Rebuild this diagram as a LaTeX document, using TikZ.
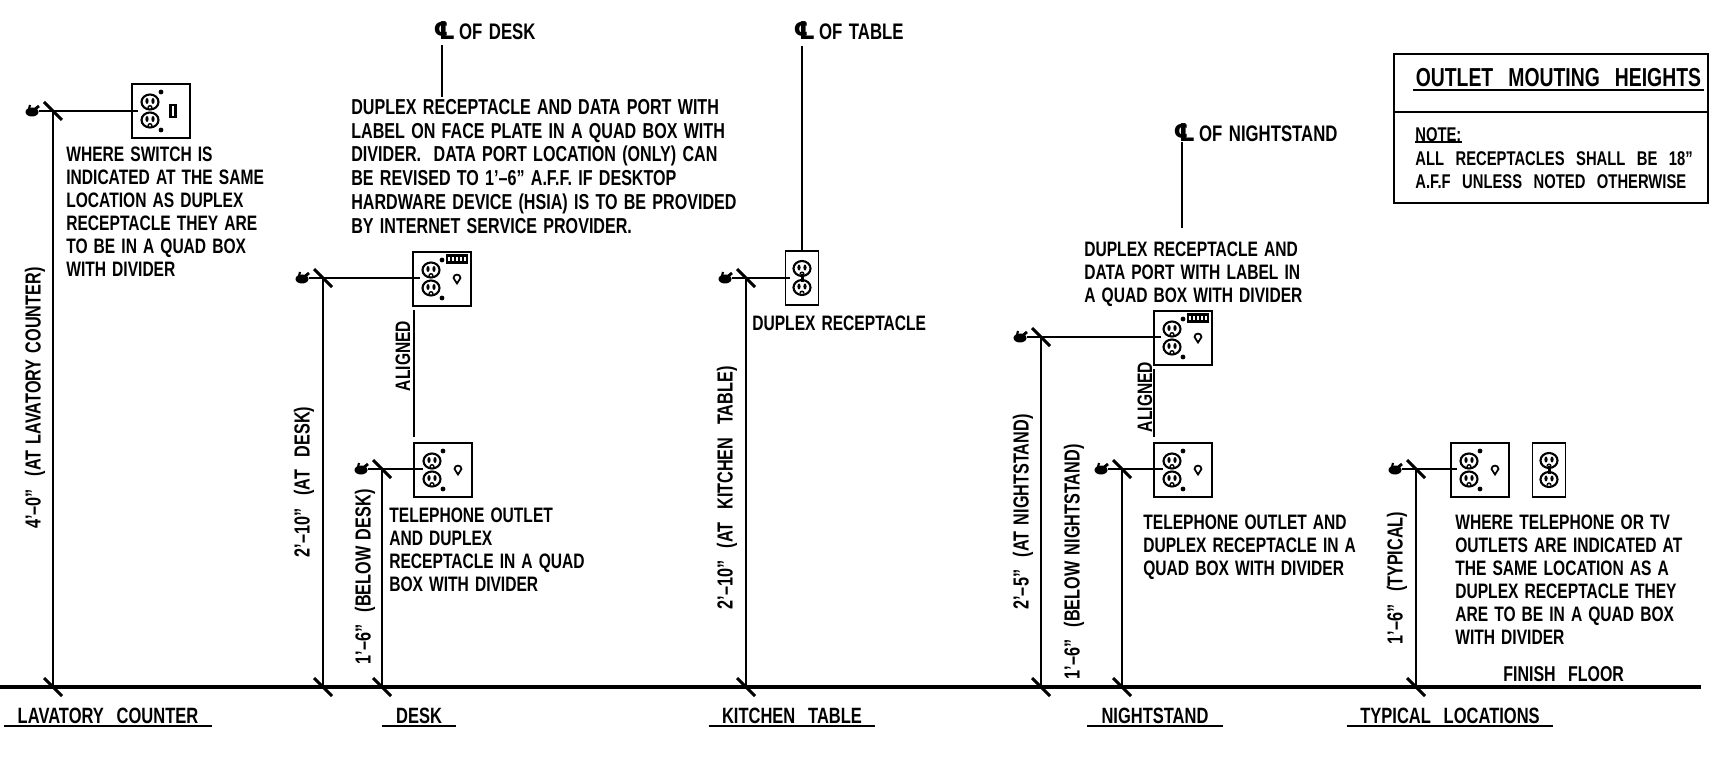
\documentclass[tikz,border=0pt]{standalone}
\usepackage{fontspec}
\setmainfont{Liberation Sans}[FakeStretch=0.745,WordSpace=1.4]
\newfontfamily\clfont{DejaVu Sans}
\newcommand{\clmark}{{\clfont\bfseries\fontsize{14}{14}\selectfont ℄}}
\tikzset{
  plate/.style={draw,line width=1.1pt,minimum width=1.16cm,minimum height=1.08cm,inner sep=0},
  narrowplate/.style={plate,minimum width=.66cm},
  note/.style={inner sep=0,anchor=north west,align=left,font=\bfseries\fontsize{11.9}{13}\selectfont},
  deskn/.style={note,font=\bfseries\fontsize{12.3}{13.5}\selectfont},
  small/.style={note,font=\bfseries\fontsize{11.3}{13}\selectfont},
  dimtext/.style={inner sep=0,rotate=90,font=\bfseries\fontsize{12.4}{13}\selectfont},
  aligntext/.style={inner sep=0,rotate=90,font=\bfseries\fontsize{11.9}{13}\selectfont},
  cltext/.style={inner sep=0,anchor=west,font=\bfseries\fontsize{12.8}{14}\selectfont},
  viewname/.style={inner xsep=0,inner ysep=1pt,font=\bfseries\fontsize{12.6}{13}\selectfont},
  floorline/.style={line width=1.8pt},
  dimline/.style={line width=1.1pt},
  leader/.style={line width=.8pt},
  tickmark/.style={line width=1.7pt},
  face/.pic={
    \draw[line width=1.2pt] (0,0) ellipse (8.5 and 7.5);
    \fill (-3,-1) ellipse (1.6 and 3);
    \fill (3,-1) ellipse (1.6 and 3);
    \draw[line width=.8pt] (-2,6) .. controls (-2,3) and (2,3) .. (2,6);
  },
  twoface/.pic={
    \pic at (-11,-9) {face};
    \pic at (-11,9) {face};
    \fill (0,-19) circle (2.4);
    \fill (0,19) circle (2.4);
  },
  jack/.pic={
    \draw[line width=1pt] (-3.5,-1) .. controls (-3.5,-5.5) and (3.5,-5.5) .. (3.5,-1) -- (0,4.5) -- cycle;
  },
  datachip/.pic={
    \draw[line width=1.2pt] (-10,-3.5) rectangle (10,3.5);
    \foreach \x in {-7,-3,1,5} \fill (\x,-2) rectangle +(2.4,4);
  }
}
\begin{document}
\begin{tikzpicture}[x=0.02cm,y=-0.02cm]
\useasboundingbox (0,0) rectangle (1715,760);
\coordinate (floorleft) at (0,687);
\coordinate (floorright) at (1701,687);
\draw[floorline] (floorleft) -- (floorright);

\node[plate] (lavplate) at (161,111) {};
\node[plate] (deskplate) at (442,279) {};
\node[plate] (phoneplate) at (443,470) {};
\node[narrowplate] (tableplate) at (802,278) {};
\node[plate] (nightplate) at (1183,338) {};
\node[plate] (nightphone) at (1183,470) {};
\node[plate] (typplate) at (1480,470) {};
\node[narrowplate] (typduplex) at (1549,470) {};

\foreach \p in {lavplate,deskplate,phoneplate,nightplate,nightphone,typplate} \pic at (\p) {twoface};
\foreach \p in {deskplate,phoneplate,nightplate,nightphone,typplate} \pic at ([xshift=.3cm]\p) {jack};
\foreach \p in {deskplate,nightplate} \pic at ([xshift=.3cm,yshift=.4cm]\p) {datachip};
\draw[line width=1.2pt] (170.5,105) rectangle +(5,12);
\foreach \p in {tableplate,typduplex} {
  \pic at ([yshift=.19cm]\p) {face};
  \pic at ([yshift=-.19cm]\p) {face};
  \fill ([yshift=.08cm,xshift=-.03cm]\p) rectangle ([yshift=-.08cm,xshift=.03cm]\p);
}

\foreach \c/\x/\y in {lavtop/53/111,lavfloor/53/687,desktop/323/278,deskfloor/323/687,lowtop/382/469,lowfloor/382/687,
  tabletop/746/278,tablefloor/746/687,nighttop/1041/337,nightfloor/1041/687,belowtop/1122/469,belowfloor/1122/687,
  typtop/1416/469,typfloor/1416/687} \coordinate (\c) at (\x,\y);
\foreach \a/\b in {lavtop/lavfloor,desktop/deskfloor,lowtop/lowfloor,tabletop/tablefloor,nighttop/nightfloor,belowtop/belowfloor,typtop/typfloor} \draw[dimline] (\a) -- (\b);
\foreach \c in {lavtop,lavfloor,desktop,deskfloor,lowtop,lowfloor,tabletop,tablefloor,nighttop,nightfloor,belowtop,belowfloor,typtop,typfloor} \draw[tickmark] (\c) +(-9,-9) -- +(9,9);

\foreach \c/\e in {lavtop/138,desktop/420,lowtop/423,tabletop/790,nighttop/1161,belowtop/1163,typtop/1457} {
  \fill (\c) +(-21,1) ellipse (6.5 and 4.5);
  \draw[line width=1.6pt] (\c) +(-19,-1) -- +(-14,-5);
  \draw[line width=1.2pt] (\c) +(-24,-2) -- +(-23,-6);
  \path (\c) ++(-14,0) coordinate (tail);
  \path (tail) -- (tail-|\e,0) coordinate (tip);
  \draw[leader] (tail) -- (tip);
}

\coordinate (aligntop) at (414,310);
\coordinate (alignlow) at (414,437);
\draw[dimline] (aligntop) -- (alignlow);
\coordinate (nalign) at (1154,369);
\coordinate (nalignlow) at (1154,437);
\draw[dimline] (nalign) -- (nalignlow);
\node[aligntext] (alignone) at (403,356) {ALIGNED};
\node[aligntext] (aligntwo) at (1145,397) {ALIGNED};

\node[cltext] (cldesk) at (433,31) {\clmark\,OF DESK};
\node[cltext] (cltable) at (793,31) {\clmark\,OF TABLE};
\node[cltext] (clnight) at (1173,133) {\clmark\,OF NIGHTSTAND};
\coordinate (deskline) at (442,45);
\coordinate (deskend) at (442,97);
\coordinate (tableline) at (802,46);
\coordinate (nightline) at (1182,142);
\coordinate (nightend) at (1182,228);
\draw[dimline] (deskline) -- (deskend);
\draw[dimline] (tableline) -- (tableplate.north);
\draw[dimline] (nightline) -- (nightend);

\node[note] (lavnote) at (66,147) {WHERE SWITCH IS\\INDICATED AT THE SAME\\LOCATION AS DUPLEX\\RECEPTACLE THEY ARE\\TO BE IN A QUAD BOX\\WITH DIVIDER};
\node[deskn] (desknote) at (351,99) {DUPLEX RECEPTACLE AND DATA PORT WITH\\LABEL ON FACE PLATE IN A QUAD BOX WITH\\DIVIDER.\ \ DATA PORT LOCATION (ONLY) CAN\\BE REVISED TO 1'--6" A.F.F. IF DESKTOP\\HARDWARE DEVICE (HSIA) IS TO BE PROVIDED\\BY INTERNET SERVICE PROVIDER.};
\node[note] (phonenote) at (389,508) {TELEPHONE OUTLET\\AND DUPLEX\\RECEPTACLE IN A QUAD\\BOX WITH DIVIDER};
\node[note] (tablenote) at (752,316) {DUPLEX RECEPTACLE};
\node[note] (nightnote) at (1084,242) {DUPLEX RECEPTACLE AND\\DATA PORT WITH LABEL IN\\A QUAD BOX WITH DIVIDER};
\node[note] (nightphnote) at (1143,515) {TELEPHONE OUTLET AND\\DUPLEX RECEPTACLE IN A\\QUAD BOX WITH DIVIDER};
\node[note] (typnote) at (1455,515) {WHERE TELEPHONE OR TV\\OUTLETS ARE INDICATED AT\\THE SAME LOCATION AS A\\DUPLEX RECEPTACLE THEY\\ARE TO BE IN A QUAD BOX\\WITH DIVIDER};
\node[note,font=\bfseries\fontsize{12.2}{13}\selectfont] (finish) at (1503,666) {FINISH\ \ FLOOR};

\node[dimtext] (dimlav) at (35,398) {4'--0"\ \ (AT LAVATORY COUNTER)};
\node[dimtext] (dimdesk) at (304,482) {2'--10"\ \ (AT\ \ DESK)};
\node[dimtext] (dimlow) at (365,577) {1'--6"\ \ (BELOW DESK)};
\node[dimtext] (dimtable) at (727,488) {2'--10"\ \ (AT\ \ KITCHEN\ \ TABLE)};
\node[dimtext] (dimnight) at (1023,512) {2'--5"\ \ (AT NIGHTSTAND)};
\node[dimtext] (dimbelow) at (1074,562) {1'--6"\ \ (BELOW NIGHTSTAND)};
\node[dimtext] (dimtyp) at (1397,578) {1'--6"\ \ (TYPICAL)};

\foreach \n/\x/\w/\t in {lavname/108/4.14/LAVATORY\ \ COUNTER,deskname/419/1.46/DESK,tablename/792/3.32/KITCHEN\ \ TABLE,nightname/1155/2.7/NIGHTSTAND,typname/1450/4.1/TYPICAL\ \ LOCATIONS} {
  \node[viewname,minimum width=\w cm] (\n) at (\x,716) {\t};
  \draw[dimline] (\n.south west) -- (\n.south east);
}

\node[draw,line width=1.1pt,minimum width=6.28cm,minimum height=2.98cm,inner sep=0] (legend) at (1551,128.5) {};
\coordinate (legendcut) at (1394,112);
\draw[dimline] (legendcut) -- (legendcut-|legend.east);
\node[inner sep=1.4pt,anchor=south west,font=\bfseries\fontsize{14.8}{16}\selectfont] (legendtitle) at (1413,90) {OUTLET\ \ MOUTING\ \ HEIGHTS};
\draw[dimline] (legendtitle.south west) -- (legendtitle.south east);
\node[small] (legendnote) at (1415,127) {NOTE:};
\draw[dimline] (legendnote.south west) -- (legendnote.south east);
\node[small] (legendtext) at (1415,151) {ALL\ \ RECEPTACLES\ \ SHALL\ \ BE\ \ 18"\\A.F.F\ \ UNLESS\ \ NOTED\ \ OTHERWISE};
\end{tikzpicture}
\end{document}
